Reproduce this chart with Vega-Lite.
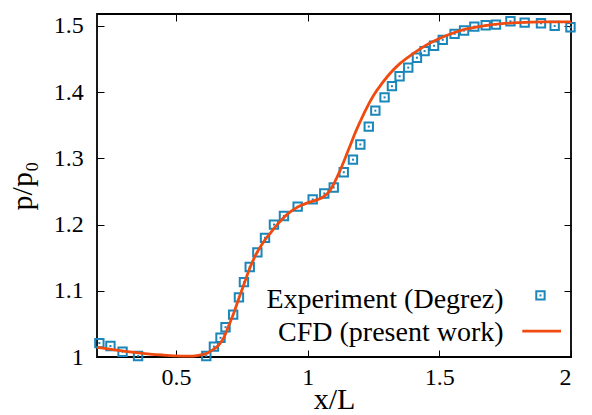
{
  "$schema": "https://vega.github.io/schema/vega-lite/v6.json",
  "width": 474,
  "height": 343,
  "autosize": {"type": "none"},
  "padding": {"left": 97, "top": 14, "right": 21, "bottom": 58},
  "background": "white",
  "config": {
    "font": "Liberation Serif",
    "view": {"stroke": "#000000", "strokeWidth": 1.8},
    "axis": {
      "domain": false,
      "grid": false,
      "ticks": true,
      "tickColor": "#000000",
      "tickWidth": 1,
      "tickSize": -7,
      "labelFont": "Liberation Serif",
      "labelFontSize": 24,
      "labelColor": "#000000",
      "titleFont": "Liberation Serif",
      "titleFontSize": 30,
      "titleFontWeight": "normal",
      "titleColor": "#000000"
    }
  },
  "datasets": {
    "cfd": [
      {"x": 0.2, "y": 1.0146}, {"x": 0.25, "y": 1.012}, {"x": 0.3, "y": 1.009},
      {"x": 0.35, "y": 1.0065}, {"x": 0.4, "y": 1.0045}, {"x": 0.45, "y": 1.003},
      {"x": 0.5, "y": 1.0018}, {"x": 0.55, "y": 1.0012}, {"x": 0.58, "y": 1.002},
      {"x": 0.6, "y": 1.0035}, {"x": 0.62, "y": 1.006}, {"x": 0.64, "y": 1.011},
      {"x": 0.66, "y": 1.017}, {"x": 0.68, "y": 1.028}, {"x": 0.7, "y": 1.047},
      {"x": 0.72, "y": 1.067}, {"x": 0.74, "y": 1.09}, {"x": 0.76, "y": 1.112},
      {"x": 0.78, "y": 1.134}, {"x": 0.8, "y": 1.152}, {"x": 0.82, "y": 1.166},
      {"x": 0.84, "y": 1.178}, {"x": 0.86, "y": 1.188}, {"x": 0.88, "y": 1.198},
      {"x": 0.9, "y": 1.207}, {"x": 0.93, "y": 1.218}, {"x": 0.96, "y": 1.226},
      {"x": 1.0, "y": 1.233}, {"x": 1.04, "y": 1.238}, {"x": 1.06, "y": 1.242},
      {"x": 1.08, "y": 1.249}, {"x": 1.1, "y": 1.262}, {"x": 1.12, "y": 1.279},
      {"x": 1.14, "y": 1.298}, {"x": 1.16, "y": 1.318}, {"x": 1.18, "y": 1.338},
      {"x": 1.2, "y": 1.356}, {"x": 1.22, "y": 1.373}, {"x": 1.25, "y": 1.395},
      {"x": 1.28, "y": 1.412}, {"x": 1.31, "y": 1.427}, {"x": 1.35, "y": 1.443},
      {"x": 1.4, "y": 1.458}, {"x": 1.45, "y": 1.471}, {"x": 1.5, "y": 1.481},
      {"x": 1.55, "y": 1.489}, {"x": 1.6, "y": 1.495}, {"x": 1.65, "y": 1.499},
      {"x": 1.7, "y": 1.502}, {"x": 1.8, "y": 1.505}, {"x": 1.9, "y": 1.506},
      {"x": 2.0, "y": 1.506}
    ],
    "exp": [
      {"x": 0.209, "y": 1.021}, {"x": 0.251, "y": 1.0166}, {"x": 0.297, "y": 1.008},
      {"x": 0.356, "y": 1.0015}, {"x": 0.615, "y": 1.0015}, {"x": 0.644, "y": 1.0157},
      {"x": 0.669, "y": 1.029}, {"x": 0.688, "y": 1.045}, {"x": 0.717, "y": 1.064},
      {"x": 0.739, "y": 1.09}, {"x": 0.758, "y": 1.113}, {"x": 0.78, "y": 1.136},
      {"x": 0.809, "y": 1.158}, {"x": 0.838, "y": 1.18}, {"x": 0.872, "y": 1.2},
      {"x": 0.91, "y": 1.213}, {"x": 0.962, "y": 1.227}, {"x": 1.019, "y": 1.238},
      {"x": 1.063, "y": 1.247}, {"x": 1.099, "y": 1.256}, {"x": 1.137, "y": 1.279},
      {"x": 1.172, "y": 1.298}, {"x": 1.2, "y": 1.321}, {"x": 1.232, "y": 1.348},
      {"x": 1.257, "y": 1.372}, {"x": 1.292, "y": 1.392}, {"x": 1.32, "y": 1.409},
      {"x": 1.349, "y": 1.424}, {"x": 1.382, "y": 1.437}, {"x": 1.415, "y": 1.452},
      {"x": 1.444, "y": 1.462}, {"x": 1.48, "y": 1.47}, {"x": 1.513, "y": 1.479},
      {"x": 1.558, "y": 1.488}, {"x": 1.594, "y": 1.493}, {"x": 1.633, "y": 1.499},
      {"x": 1.676, "y": 1.501}, {"x": 1.715, "y": 1.502}, {"x": 1.77, "y": 1.507},
      {"x": 1.824, "y": 1.505}, {"x": 1.886, "y": 1.504}, {"x": 1.938, "y": 1.5},
      {"x": 1.998, "y": 1.498}
    ],
    "legtext": [
      {"x": 1.744, "y": 1.0735, "t": "Experiment (Degrez)"},
      {"x": 1.744, "y": 1.0237, "t": "CFD (present work)"}
    ],
    "legline": [{"x": 1.815, "y": 1.0392}, {"x": 1.962, "y": 1.0392}],
    "legpt": [{"x": 1.884, "y": 1.093}]
  },
  "resolve": {"axis": {"x": "independent", "y": "independent"}},
  "layer": [
    {
      "data": {"name": "exp"},
      "mark": {"type": "point", "shape": "square", "filled": false, "size": 70, "stroke": "#1a86b9", "strokeWidth": 2, "opacity": 1},
      "encoding": {
        "x": {"field": "x", "type": "quantitative", "scale": {"domain": [0.2, 2], "nice": false, "zero": false},
              "axis": {"orient": "bottom", "values": [0.5, 1, 1.5, 2], "format": "~g", "title": "x/L", "labelPadding": 15.5, "titleBaseline": "alphabetic", "titleY": 51.6}},
        "y": {"field": "y", "type": "quantitative", "scale": {"domain": [1, 1.518], "nice": false, "zero": false},
              "axis": {"orient": "left", "values": [1, 1.1, 1.2, 1.3, 1.4, 1.5], "format": "~g", "title": "p/p₀", "labelPadding": 20.7, "titleBaseline": "alphabetic", "titleX": -65.5}}
      }
    },
    {
      "data": {"name": "exp"},
      "mark": {"type": "square", "size": 4, "color": "#1a86b9", "opacity": 1},
      "encoding": {
        "x": {"field": "x", "type": "quantitative", "axis": {"orient": "top", "values": [0.5, 1, 1.5], "labels": false, "title": null}},
        "y": {"field": "y", "type": "quantitative", "axis": {"orient": "right", "values": [1.1, 1.2, 1.3, 1.4, 1.5], "labels": false, "title": null}}
      }
    },
    {
      "data": {"name": "cfd"},
      "mark": {"type": "line", "color": "#f04a10", "strokeWidth": 2.8, "interpolate": "monotone"},
      "encoding": {
        "x": {"field": "x", "type": "quantitative", "axis": null},
        "y": {"field": "y", "type": "quantitative", "axis": null}
      }
    },
    {
      "data": {"name": "legtext"},
      "mark": {"type": "text", "align": "right", "baseline": "alphabetic", "fontSize": 28, "font": "Liberation Serif", "color": "#000000"},
      "encoding": {
        "x": {"field": "x", "type": "quantitative", "axis": null},
        "y": {"field": "y", "type": "quantitative", "axis": null},
        "text": {"field": "t"}
      }
    },
    {
      "data": {"name": "legpt"},
      "mark": {"type": "point", "shape": "square", "filled": false, "size": 70, "stroke": "#1a86b9", "strokeWidth": 2, "opacity": 1},
      "encoding": {
        "x": {"field": "x", "type": "quantitative", "axis": null},
        "y": {"field": "y", "type": "quantitative", "axis": null}
      }
    },
    {
      "data": {"name": "legpt"},
      "mark": {"type": "square", "size": 4, "color": "#1a86b9", "opacity": 1},
      "encoding": {
        "x": {"field": "x", "type": "quantitative", "axis": null},
        "y": {"field": "y", "type": "quantitative", "axis": null}
      }
    },
    {
      "data": {"name": "legline"},
      "mark": {"type": "line", "color": "#f04a10", "strokeWidth": 2.8},
      "encoding": {
        "x": {"field": "x", "type": "quantitative", "axis": null},
        "y": {"field": "y", "type": "quantitative", "axis": null}
      }
    }
  ]
}
